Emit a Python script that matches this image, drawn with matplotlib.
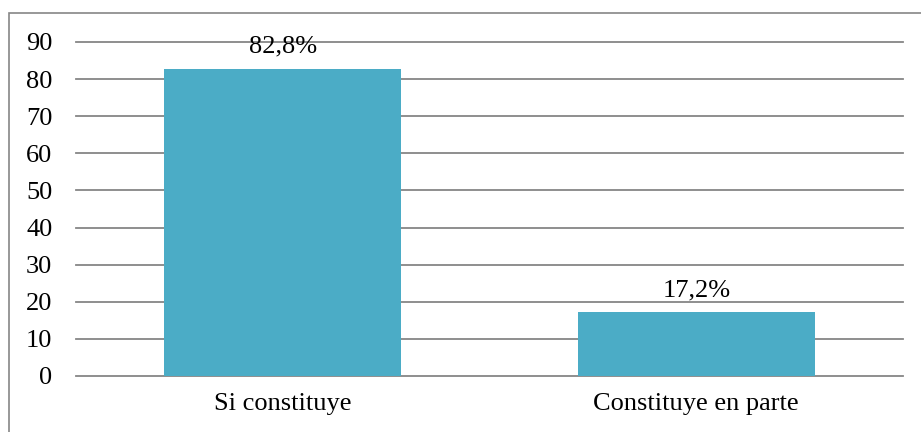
import matplotlib.pyplot as plt
from matplotlib.patches import Rectangle

categories = ['Si constituye', 'Constituye en parte']
values = [82.8, 17.2]
labels = ['82,8%', '17,2%']
yticks = [0, 10, 20, 30, 40, 50, 60, 70, 80, 90]

plt.rcParams['font.family'] = ['Liberation Serif', 'DejaVu Serif']
plt.rcParams['font.size'] = 19

fig = plt.figure(figsize=(9.21, 4.32), dpi=100)
ax = fig.add_axes([76 / 921, 1 - 376 / 432, 827 / 921, 334 / 432])

x = list(range(len(categories)))
bars = ax.bar(x, values, width=0.573, color='#4BACC6', zorder=3)
for b, lab in zip(bars, labels):
    ax.annotate(lab, (b.get_x() + b.get_width() / 2, b.get_height()),
                xytext=(0, 8), textcoords='offset points',
                ha='center', va='bottom', color='black')

ax.set_xlim(-0.5, 1.5)
ax.set_ylim(0, 90)
ax.set_yticks(yticks)
ax.set_xticks(x)
ax.set_xticklabels(categories)
ax.yaxis.grid(True, color='#868686', linewidth=1.3, zorder=0)
for gl in ax.get_ygridlines():
    gl.set_clip_on(False)
ax.tick_params(axis='both', length=0)
ax.tick_params(axis='y', pad=17)
ax.tick_params(axis='x', pad=12)
for s in ax.spines.values():
    s.set_visible(False)

# outer chart border
fig.patches.append(Rectangle((9 / 921, -0.05), 1.0, 1 - 13 / 432 + 0.05,
                             transform=fig.transFigure, fill=False,
                             edgecolor='#868686', linewidth=1.2))

fig.savefig('out.png', dpi=100)
